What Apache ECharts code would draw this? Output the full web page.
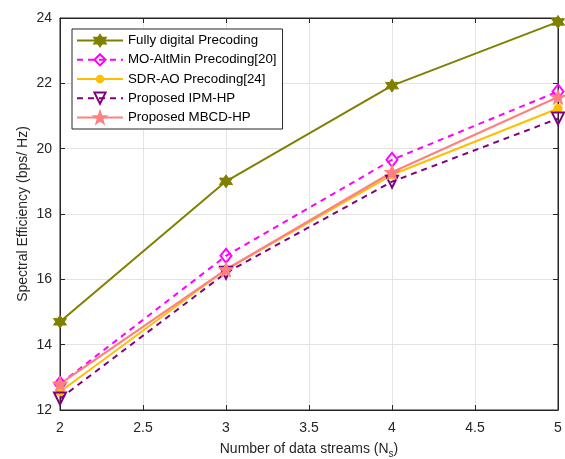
<!DOCTYPE html>
<html><head><meta charset="utf-8">
<script src="https://cdn.jsdelivr.net/npm/echarts@6/dist/echarts.min.js"></script>
<style>html,body{margin:0;padding:0;background:#fff}#c{width:565px;height:459px}</style>
</head><body><div id="c"></div>
<script>
const streams = [2, 3, 4, 5];
const fullyDigital = [14.7, 19.0, 21.93, 23.88];
const moAltMin = [12.8, 16.72, 19.66, 21.75];
const sdrAo = [12.56, 16.3, 19.2, 21.23];
const ipmHp = [12.35, 16.2, 18.99, 20.92];
const mbcdHp = [12.8, 16.3, 19.28, 21.58];
const seriesNames = ['Fully digital Precoding', 'MO-AltMin Precoding[20]', 'SDR-AO Precoding[24]', 'Proposed IPM-HP', 'Proposed MBCD-HP'];

const hexagram = 'path://M0,-10 L2.89,-5 L8.66,-5 L5.77,0 L8.66,5 L2.89,5 L0,10 L-2.89,5 L-8.66,5 L-5.77,0 L-8.66,-5 L-2.89,-5 Z';
const pentagram = 'path://M0,-10 L2.35,-3.24 L9.51,-3.09 L3.8,1.24 L5.88,8.09 L0,4 L-5.88,8.09 L-3.8,1.24 L-9.51,-3.09 L-2.35,-3.24 Z';
const smallDot = 'path://M-6,-6 M6,6 M-3.5,0 A3.5,3.5 0 1,0 3.5,0 A3.5,3.5 0 1,0 -3.5,0 Z';

function pairs(vals){ return streams.map((x,i)=>[x, vals[i]]); }
const font = 'Liberation Sans, Arial, sans-serif';
const axisCol = '#262626';

const chart = echarts.init(document.getElementById('c'));
chart.setOption({
  animation: false,
  textStyle: {fontFamily: font},
  grid: {left: 60, right: 7, top: 18, bottom: 49, show: true, borderColor: axisCol, borderWidth: 1, containLabel: false, outerBoundsMode: 'none'},
  legend: {
    orient: 'vertical', left: 72, top: 29,
    backgroundColor: '#fff', borderColor: axisCol, borderWidth: 1,
    padding: [5, 6, 5, 4], itemWidth: 46, itemHeight: 14, itemGap: 6,
    textStyle: {fontFamily: font, fontSize: 13.3, color: '#000'},
    data: seriesNames
  },
  xAxis: [{
    type: 'value', min: 2, max: 5, interval: 0.5,
    name: '{a|Number of data streams (N}{b|s}{a|)}', nameLocation: 'middle', nameGap: 30,
    nameTextStyle: {rich: {a: {fontSize: 14, color: '#262626', fontFamily: font}, b: {fontSize: 10, color: '#262626', fontFamily: font, verticalAlign: 'bottom', padding: [9,0,0,0]}}},
    axisLine: {show: true, lineStyle: {color: axisCol}},
    axisTick: {show: true, inside: true, length: 5, lineStyle: {color: axisCol}},
    axisLabel: {fontSize: 14, color: '#262626', margin: 11, fontFamily: font},
    splitLine: {show: true, lineStyle: {color: '#e3e3e3'}}
  }, {
    type: 'value', position: 'top', min: 2, max: 5, interval: 0.5,
    axisLine: {show: true, lineStyle: {color: axisCol}},
    axisTick: {show: true, inside: true, length: 5, lineStyle: {color: axisCol}},
    axisLabel: {show: false}, splitLine: {show: false}
  }],
  yAxis: [{
    type: 'value', min: 12, max: 24, interval: 2,
    name: 'Spectral Efficiency (bps/ Hz)', nameLocation: 'middle', nameGap: 30, nameMoveOverlap: false,
    nameTextStyle: {fontSize: 14, color: '#262626', fontFamily: font},
    axisLine: {show: true, lineStyle: {color: axisCol}},
    axisTick: {show: true, inside: true, length: 5, lineStyle: {color: axisCol}},
    axisLabel: {fontSize: 14, color: '#262626', margin: 8, fontFamily: font},
    splitLine: {show: true, lineStyle: {color: '#e3e3e3'}}
  }, {
    type: 'value', position: 'right', min: 12, max: 24, interval: 2,
    axisLine: {show: true, lineStyle: {color: axisCol}},
    axisTick: {show: true, inside: true, length: 5, lineStyle: {color: axisCol}},
    axisLabel: {show: false}, splitLine: {show: false}
  }],
  series: [
    {name: seriesNames[0], type: 'line', data: pairs(fullyDigital), symbol: hexagram, symbolSize: 13,
     lineStyle: {color: '#808000', width: 2}, itemStyle: {color: '#808000', borderColor: '#808000', borderWidth: 1}},
    {name: seriesNames[1], type: 'line', data: pairs(moAltMin), symbol: 'diamond', symbolSize: [11, 14],
     lineStyle: {color: '#ff00ff', width: 2, type: [6, 5]}, itemStyle: {color: 'rgba(255,255,255,0)', borderColor: '#ff00ff', borderWidth: 2}},
    {name: seriesNames[2], type: 'line', data: pairs(sdrAo), symbol: smallDot, symbolSize: 14,
     lineStyle: {color: '#ffbf00', width: 2}, itemStyle: {color: '#ffbf00', borderColor: '#ffbf00', borderWidth: 1}},
    {name: seriesNames[3], type: 'line', data: pairs(ipmHp), symbol: 'triangle', symbolRotate: 180, symbolSize: 12,
     lineStyle: {color: '#800080', width: 2, type: [6, 5]}, itemStyle: {color: 'rgba(255,255,255,0)', borderColor: '#800080', borderWidth: 2}},
    {name: seriesNames[4], type: 'line', data: pairs(mbcdHp), symbol: pentagram, symbolSize: 15,
     lineStyle: {color: '#ff8080', width: 2.2}, itemStyle: {color: '#ff8080', borderColor: '#ff8080', borderWidth: 1}}
  ]
});
</script></body></html>
